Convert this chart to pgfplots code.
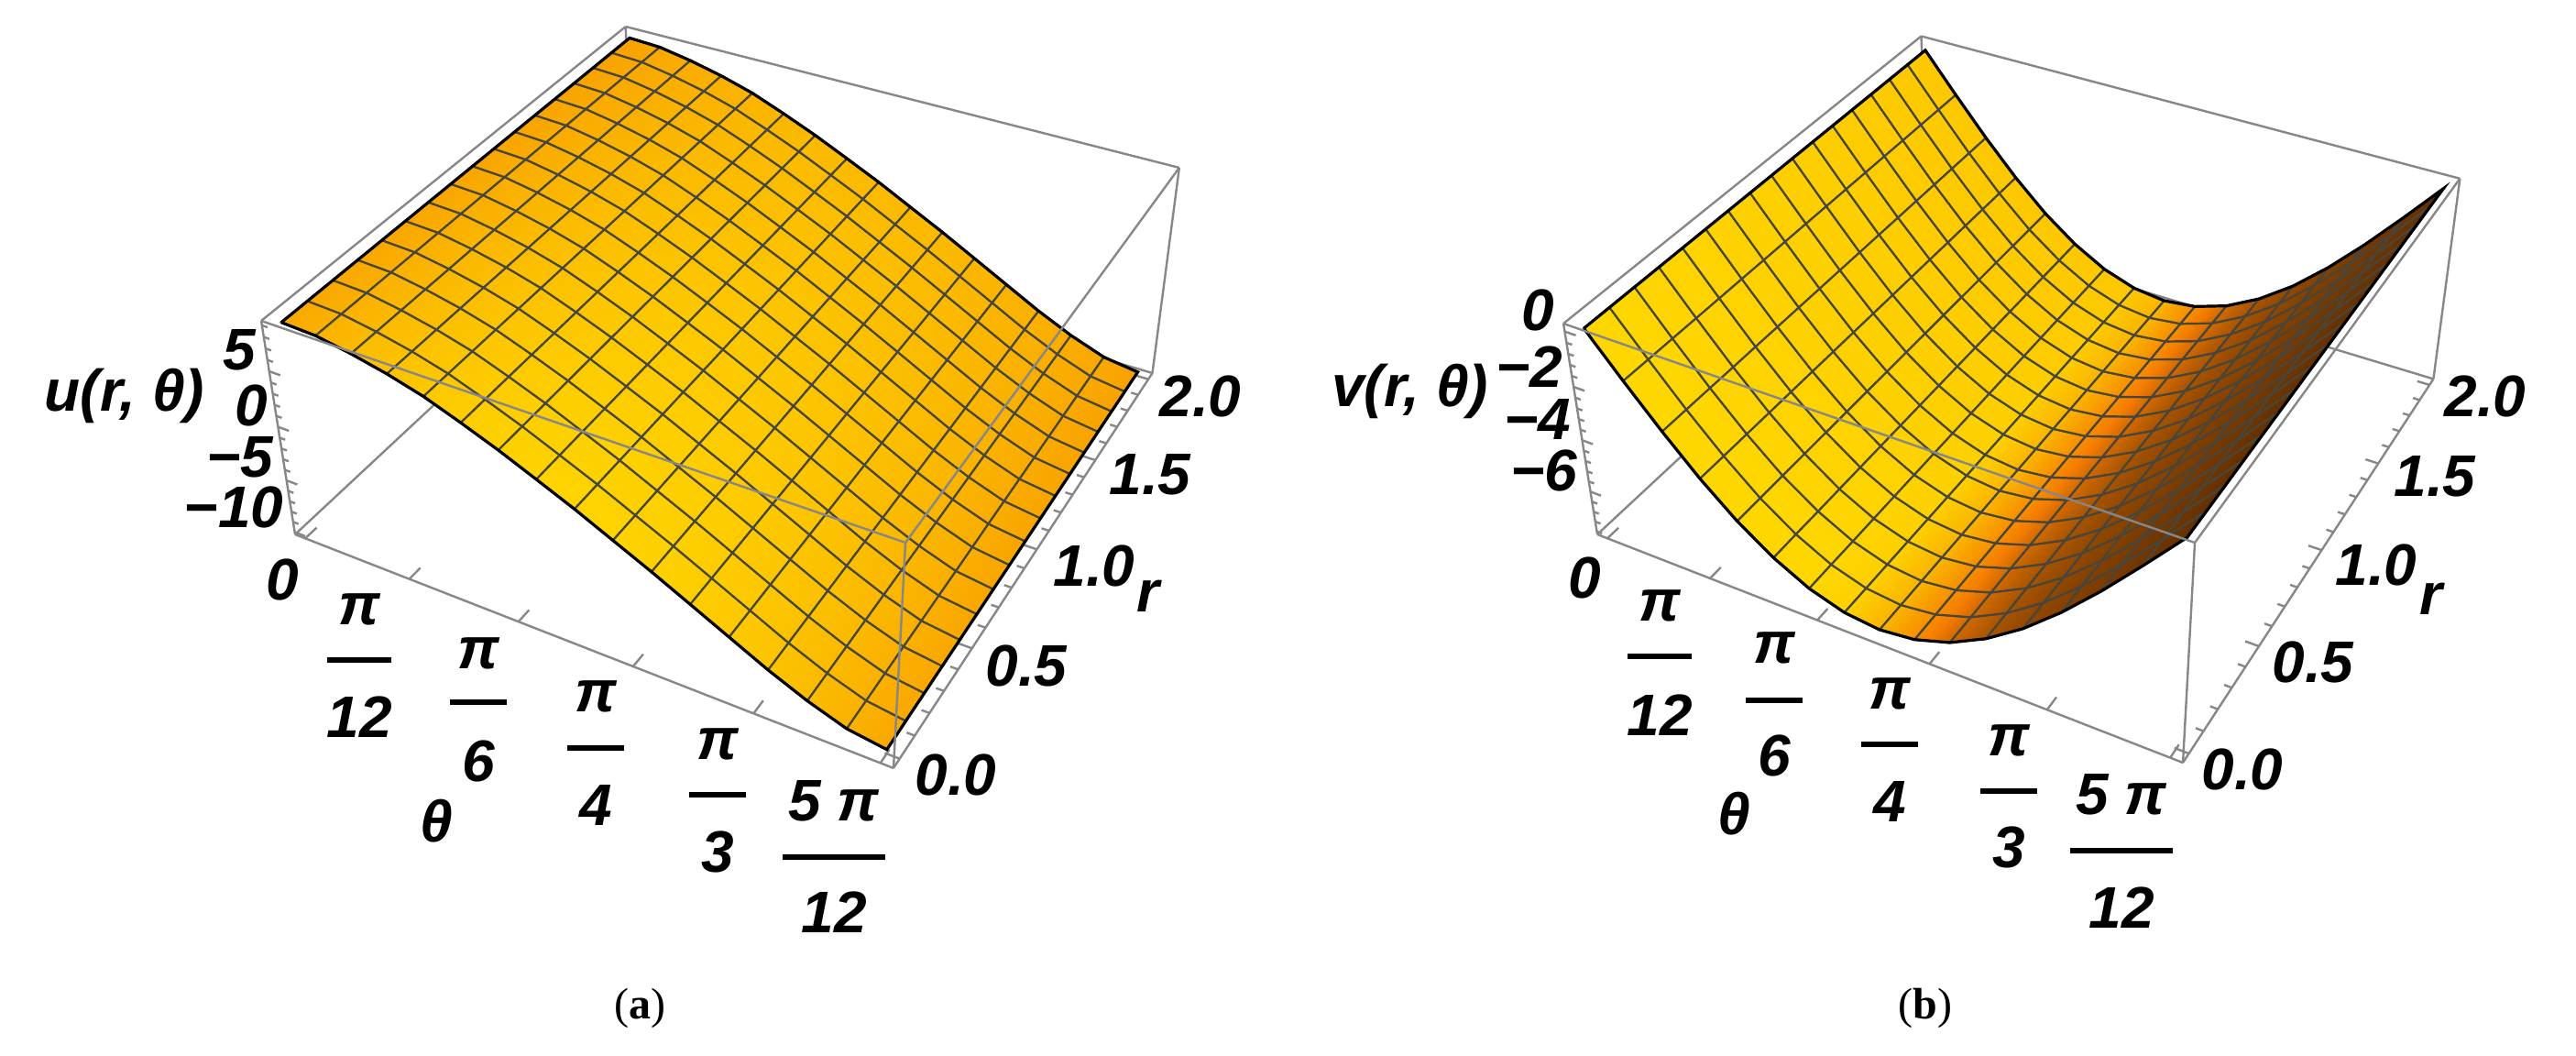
\documentclass[border=0pt]{standalone}
\usepackage{fontspec}
\setmainfont{Liberation Sans}
\newfontfamily\capfont{Liberation Serif}
\usepackage{pgfplots}
\usepackage{pgfplotstable}
\pgfplotsset{compat=1.18}

% u(r,theta): i = theta index (theta = i/16 * 5pi/12), j = r index (r = j/8)
\pgfplotstableread[row sep=\\]{i j z\\
0 0 8.98\\0 1 8.98\\0 2 8.98\\0 3 8.98\\0 4 8.98\\0 5 8.98\\0 6 8.98\\0 7 8.98\\0 8 8.98\\0 9 8.98\\0 10 8.98\\0 11 8.98\\0 12 8.98\\0 13 8.98\\0 14 8.98\\0 15 8.98\\0 16 8.98\\
1 0 8.84\\1 1 8.84\\1 2 8.84\\1 3 8.84\\1 4 8.84\\1 5 8.84\\1 6 8.84\\1 7 8.84\\1 8 8.84\\1 9 8.84\\1 10 8.84\\1 11 8.84\\1 12 8.84\\1 13 8.84\\1 14 8.84\\1 15 8.84\\1 16 8.84\\
2 0 8.31\\2 1 8.31\\2 2 8.31\\2 3 8.31\\2 4 8.31\\2 5 8.31\\2 6 8.31\\2 7 8.31\\2 8 8.31\\2 9 8.31\\2 10 8.31\\2 11 8.31\\2 12 8.31\\2 13 8.31\\2 14 8.31\\2 15 8.31\\2 16 8.31\\
3 0 7.62\\3 1 7.62\\3 2 7.62\\3 3 7.62\\3 4 7.62\\3 5 7.62\\3 6 7.62\\3 7 7.62\\3 8 7.62\\3 9 7.62\\3 10 7.62\\3 11 7.62\\3 12 7.62\\3 13 7.62\\3 14 7.62\\3 15 7.62\\3 16 7.62\\
4 0 6.74\\4 1 6.74\\4 2 6.74\\4 3 6.74\\4 4 6.74\\4 5 6.74\\4 6 6.74\\4 7 6.74\\4 8 6.74\\4 9 6.74\\4 10 6.74\\4 11 6.74\\4 12 6.74\\4 13 6.74\\4 14 6.74\\4 15 6.74\\4 16 6.74\\
5 0 5.56\\5 1 5.56\\5 2 5.56\\5 3 5.56\\5 4 5.56\\5 5 5.56\\5 6 5.56\\5 7 5.56\\5 8 5.56\\5 9 5.56\\5 10 5.56\\5 11 5.56\\5 12 5.56\\5 13 5.56\\5 14 5.56\\5 15 5.56\\5 16 5.56\\
6 0 4.29\\6 1 4.29\\6 2 4.29\\6 3 4.29\\6 4 4.29\\6 5 4.29\\6 6 4.29\\6 7 4.29\\6 8 4.29\\6 9 4.29\\6 10 4.29\\6 11 4.29\\6 12 4.29\\6 13 4.29\\6 14 4.29\\6 15 4.29\\6 16 4.29\\
7 0 2.88\\7 1 2.88\\7 2 2.88\\7 3 2.88\\7 4 2.88\\7 5 2.88\\7 6 2.88\\7 7 2.88\\7 8 2.88\\7 9 2.88\\7 10 2.88\\7 11 2.88\\7 12 2.88\\7 13 2.88\\7 14 2.88\\7 15 2.88\\7 16 2.88\\
8 0 1.44\\8 1 1.44\\8 2 1.44\\8 3 1.44\\8 4 1.44\\8 5 1.44\\8 6 1.44\\8 7 1.44\\8 8 1.44\\8 9 1.44\\8 10 1.44\\8 11 1.44\\8 12 1.44\\8 13 1.44\\8 14 1.44\\8 15 1.44\\8 16 1.44\\
9 0 -0.13\\9 1 -0.13\\9 2 -0.13\\9 3 -0.13\\9 4 -0.13\\9 5 -0.13\\9 6 -0.13\\9 7 -0.13\\9 8 -0.13\\9 9 -0.13\\9 10 -0.13\\9 11 -0.13\\9 12 -0.13\\9 13 -0.13\\9 14 -0.13\\9 15 -0.13\\9 16 -0.13\\
10 0 -1.70\\10 1 -1.70\\10 2 -1.70\\10 3 -1.70\\10 4 -1.70\\10 5 -1.70\\10 6 -1.70\\10 7 -1.70\\10 8 -1.70\\10 9 -1.70\\10 10 -1.70\\10 11 -1.70\\10 12 -1.70\\10 13 -1.70\\10 14 -1.70\\10 15 -1.70\\10 16 -1.70\\
11 0 -3.36\\11 1 -3.36\\11 2 -3.36\\11 3 -3.36\\11 4 -3.36\\11 5 -3.36\\11 6 -3.36\\11 7 -3.36\\11 8 -3.36\\11 9 -3.36\\11 10 -3.36\\11 11 -3.36\\11 12 -3.36\\11 13 -3.36\\11 14 -3.36\\11 15 -3.36\\11 16 -3.36\\
12 0 -5.03\\12 1 -5.03\\12 2 -5.03\\12 3 -5.03\\12 4 -5.03\\12 5 -5.03\\12 6 -5.03\\12 7 -5.03\\12 8 -5.03\\12 9 -5.03\\12 10 -5.03\\12 11 -5.03\\12 12 -5.03\\12 13 -5.03\\12 14 -5.03\\12 15 -5.03\\12 16 -5.03\\
13 0 -6.70\\13 1 -6.70\\13 2 -6.70\\13 3 -6.70\\13 4 -6.70\\13 5 -6.70\\13 6 -6.70\\13 7 -6.70\\13 8 -6.70\\13 9 -6.70\\13 10 -6.70\\13 11 -6.70\\13 12 -6.70\\13 13 -6.70\\13 14 -6.70\\13 15 -6.70\\13 16 -6.70\\
14 0 -8.17\\14 1 -8.17\\14 2 -8.17\\14 3 -8.17\\14 4 -8.17\\14 5 -8.17\\14 6 -8.17\\14 7 -8.17\\14 8 -8.17\\14 9 -8.17\\14 10 -8.17\\14 11 -8.17\\14 12 -8.17\\14 13 -8.17\\14 14 -8.17\\14 15 -8.17\\14 16 -8.17\\
15 0 -9.35\\15 1 -9.35\\15 2 -9.35\\15 3 -9.35\\15 4 -9.35\\15 5 -9.35\\15 6 -9.35\\15 7 -9.35\\15 8 -9.35\\15 9 -9.35\\15 10 -9.35\\15 11 -9.35\\15 12 -9.35\\15 13 -9.35\\15 14 -9.35\\15 15 -9.35\\15 16 -9.35\\
16 0 -9.84\\16 1 -9.84\\16 2 -9.84\\16 3 -9.84\\16 4 -9.84\\16 5 -9.84\\16 6 -9.84\\16 7 -9.84\\16 8 -9.84\\16 9 -9.84\\16 10 -9.84\\16 11 -9.84\\16 12 -9.84\\16 13 -9.84\\16 14 -9.84\\16 15 -9.84\\16 16 -9.84\\
}\tabU

% outline of the u surface
\pgfplotstableread[row sep=\\]{i j z\\
0 0 8.98\\1 0 8.84\\2 0 8.31\\3 0 7.62\\4 0 6.74\\5 0 5.56\\6 0 4.29\\7 0 2.88\\8 0 1.44\\9 0 -0.13\\10 0 -1.70\\11 0 -3.36\\12 0 -5.03\\13 0 -6.70\\14 0 -8.17\\15 0 -9.35\\16 0 -9.84\\
16 16 -9.84\\15 16 -9.35\\14 16 -8.17\\13 16 -6.70\\12 16 -5.03\\11 16 -3.36\\10 16 -1.70\\9 16 -0.13\\8 16 1.44\\7 16 2.88\\6 16 4.29\\5 16 5.56\\4 16 6.74\\3 16 7.62\\2 16 8.31\\1 16 8.84\\0 16 8.98\\0 0 8.98\\
}\edgeU

% v(r,theta)
\pgfplotstableread[row sep=\\]{i j z\\
0 0 0\\0 1 0\\0 2 0\\0 3 0\\0 4 0\\0 5 0\\0 6 0\\0 7 0\\0 8 0\\0 9 0\\0 10 0\\0 11 0\\0 12 0\\0 13 0\\0 14 0\\0 15 0\\0 16 0\\
1 0 -1.47\\1 1 -1.47\\1 2 -1.47\\1 3 -1.47\\1 4 -1.47\\1 5 -1.47\\1 6 -1.47\\1 7 -1.47\\1 8 -1.47\\1 9 -1.47\\1 10 -1.47\\1 11 -1.47\\1 12 -1.47\\1 13 -1.47\\1 14 -1.47\\1 15 -1.47\\1 16 -1.47\\
2 0 -2.89\\2 1 -2.89\\2 2 -2.89\\2 3 -2.89\\2 4 -2.89\\2 5 -2.89\\2 6 -2.89\\2 7 -2.89\\2 8 -2.89\\2 9 -2.89\\2 10 -2.89\\2 11 -2.89\\2 12 -2.89\\2 13 -2.89\\2 14 -2.89\\2 15 -2.89\\2 16 -2.89\\
3 0 -4.20\\3 1 -4.20\\3 2 -4.20\\3 3 -4.20\\3 4 -4.20\\3 5 -4.20\\3 6 -4.20\\3 7 -4.20\\3 8 -4.20\\3 9 -4.20\\3 10 -4.20\\3 11 -4.20\\3 12 -4.20\\3 13 -4.20\\3 14 -4.20\\3 15 -4.20\\3 16 -4.20\\
4 0 -5.35\\4 1 -5.35\\4 2 -5.35\\4 3 -5.35\\4 4 -5.35\\4 5 -5.35\\4 6 -5.35\\4 7 -5.35\\4 8 -5.35\\4 9 -5.35\\4 10 -5.35\\4 11 -5.35\\4 12 -5.35\\4 13 -5.35\\4 14 -5.35\\4 15 -5.35\\4 16 -5.35\\
5 0 -6.28\\5 1 -6.28\\5 2 -6.28\\5 3 -6.28\\5 4 -6.28\\5 5 -6.28\\5 6 -6.28\\5 7 -6.28\\5 8 -6.28\\5 9 -6.28\\5 10 -6.28\\5 11 -6.28\\5 12 -6.28\\5 13 -6.28\\5 14 -6.28\\5 15 -6.28\\5 16 -6.28\\
6 0 -6.98\\6 1 -6.98\\6 2 -6.98\\6 3 -6.98\\6 4 -6.98\\6 5 -6.98\\6 6 -6.98\\6 7 -6.98\\6 8 -6.98\\6 9 -6.98\\6 10 -6.98\\6 11 -6.98\\6 12 -6.98\\6 13 -6.98\\6 14 -6.98\\6 15 -6.98\\6 16 -6.98\\
7 0 -7.41\\7 1 -7.41\\7 2 -7.41\\7 3 -7.41\\7 4 -7.41\\7 5 -7.41\\7 6 -7.41\\7 7 -7.41\\7 8 -7.41\\7 9 -7.41\\7 10 -7.41\\7 11 -7.41\\7 12 -7.41\\7 13 -7.41\\7 14 -7.41\\7 15 -7.41\\7 16 -7.41\\
8 0 -7.56\\8 1 -7.56\\8 2 -7.56\\8 3 -7.56\\8 4 -7.56\\8 5 -7.56\\8 6 -7.56\\8 7 -7.56\\8 8 -7.56\\8 9 -7.56\\8 10 -7.56\\8 11 -7.56\\8 12 -7.56\\8 13 -7.56\\8 14 -7.56\\8 15 -7.56\\8 16 -7.56\\
9 0 -7.41\\9 1 -7.41\\9 2 -7.41\\9 3 -7.41\\9 4 -7.41\\9 5 -7.41\\9 6 -7.41\\9 7 -7.41\\9 8 -7.41\\9 9 -7.41\\9 10 -7.41\\9 11 -7.41\\9 12 -7.41\\9 13 -7.41\\9 14 -7.41\\9 15 -7.41\\9 16 -7.41\\
10 0 -6.98\\10 1 -6.98\\10 2 -6.98\\10 3 -6.98\\10 4 -6.98\\10 5 -6.98\\10 6 -6.98\\10 7 -6.98\\10 8 -6.98\\10 9 -6.98\\10 10 -6.98\\10 11 -6.98\\10 12 -6.98\\10 13 -6.98\\10 14 -6.98\\10 15 -6.98\\10 16 -6.98\\
11 0 -6.28\\11 1 -6.28\\11 2 -6.28\\11 3 -6.28\\11 4 -6.28\\11 5 -6.28\\11 6 -6.28\\11 7 -6.28\\11 8 -6.28\\11 9 -6.28\\11 10 -6.28\\11 11 -6.28\\11 12 -6.28\\11 13 -6.28\\11 14 -6.28\\11 15 -6.28\\11 16 -6.28\\
12 0 -5.35\\12 1 -5.35\\12 2 -5.35\\12 3 -5.35\\12 4 -5.35\\12 5 -5.35\\12 6 -5.35\\12 7 -5.35\\12 8 -5.35\\12 9 -5.35\\12 10 -5.35\\12 11 -5.35\\12 12 -5.35\\12 13 -5.35\\12 14 -5.35\\12 15 -5.35\\12 16 -5.35\\
13 0 -4.20\\13 1 -4.20\\13 2 -4.20\\13 3 -4.20\\13 4 -4.20\\13 5 -4.20\\13 6 -4.20\\13 7 -4.20\\13 8 -4.20\\13 9 -4.20\\13 10 -4.20\\13 11 -4.20\\13 12 -4.20\\13 13 -4.20\\13 14 -4.20\\13 15 -4.20\\13 16 -4.20\\
14 0 -2.89\\14 1 -2.89\\14 2 -2.89\\14 3 -2.89\\14 4 -2.89\\14 5 -2.89\\14 6 -2.89\\14 7 -2.89\\14 8 -2.89\\14 9 -2.89\\14 10 -2.89\\14 11 -2.89\\14 12 -2.89\\14 13 -2.89\\14 14 -2.89\\14 15 -2.89\\14 16 -2.89\\
15 0 -1.47\\15 1 -1.47\\15 2 -1.47\\15 3 -1.47\\15 4 -1.47\\15 5 -1.47\\15 6 -1.47\\15 7 -1.47\\15 8 -1.47\\15 9 -1.47\\15 10 -1.47\\15 11 -1.47\\15 12 -1.47\\15 13 -1.47\\15 14 -1.47\\15 15 -1.47\\15 16 -1.47\\
16 0 0\\16 1 0\\16 2 0\\16 3 0\\16 4 0\\16 5 0\\16 6 0\\16 7 0\\16 8 0\\16 9 0\\16 10 0\\16 11 0\\16 12 0\\16 13 0\\16 14 0\\16 15 0\\16 16 0\\
}\tabV

\pgfplotstableread[row sep=\\]{i j z\\
0 0 0\\1 0 -1.47\\2 0 -2.89\\3 0 -4.20\\4 0 -5.35\\5 0 -6.28\\6 0 -6.98\\7 0 -7.41\\8 0 -7.56\\9 0 -7.41\\10 0 -6.98\\11 0 -6.28\\12 0 -5.35\\13 0 -4.20\\14 0 -2.89\\15 0 -1.47\\16 0 0\\
16 16 0\\15 16 -1.47\\14 16 -2.89\\13 16 -4.20\\12 16 -5.35\\11 16 -6.28\\10 16 -6.98\\9 16 -7.41\\8 16 -7.56\\7 16 -7.41\\6 16 -6.98\\5 16 -6.28\\4 16 -5.35\\3 16 -4.20\\2 16 -2.89\\1 16 -1.47\\0 16 0\\0 0 0\\
}\edgeV

% perspective of the two boxes, in pixels of the page; a, b, c are box fractions
\tikzset{declare function={
  pad(\t)=(\t+0.02)/1.04;
  cL(\z)=(\z+10.23)/19.62;
  cR(\z)=(\z+7.72)/8;
  wL(\a,\b,\c)=1-0.1206*\a+0.212*\b-0.0689*\c;
  wR(\a,\b,\c)=1-0.1118*\a+0.215*\b-0.0705*\c;
  XL(\a,\b,\c)=(535.4*\a+515*\b-56.6*\c+322)/wL(\a,\b,\c);
  YL(\a,\b,\c)=(153.9*\a-292.7*\b-257.1*\c+583)/wL(\a,\b,\c);
  XR(\a,\b,\c)=(372.7*\a+813.7*\b-157.3*\c+1743)/wR(\a,\b,\c);
  YR(\a,\b,\c)=(156*\a-282.9*\b-254.9*\c+583)/wR(\a,\b,\c);
  shL(\t,\s)=168-6*\s+(44-20*\s)*(1-(2*\t-1)*(2*\t-1));
  shR(\t,\s)=min(215-15*\s,48+80*(1-\t)+130/(1+exp(18*(\t-0.55))));
}}

\definecolor{framec}{RGB}{135,135,135}
\definecolor{meshc}{RGB}{72,70,60}

\pgfplotsset{
  panel/.style={
    scale only axis, width=702.75pt, height=288pt,
    xmin=0, xmax=2811, ymin=0, ymax=1152, y dir=reverse,
    hide axis, clip=false, anchor=south west, at={(0,0)},
    colormap={sun}{rgb255(0pt)=(85,40,0); rgb255(85pt)=(245,125,0); rgb255(185pt)=(255,225,0)},
    point meta min=40, point meta max=225,
  },
  fr/.style={framec, line width=0.6pt, no marks},
  meshsurf/.style={surf, shader=faceted interp, faceted color=meshc, line width=0.55pt, mesh/cols=17},
}
\tikzset{
  tl/.style={inner sep=0pt, font=\fontsize{16}{18}\selectfont\bfseries\itshape},
  subcap/.style={inner sep=0pt, font=\fontsize{12}{14}\selectfont\capfont},
}

\newcommand{\seg}[7]{\addplot[fr] coordinates {({X#1(#2,#3,#4)},{Y#1(#2,#3,#4)}) ({X#1(#5,#6,#7)},{Y#1(#5,#6,#7)})};}
\newcommand{\ttick}[2]{\seg{#1}{pad(#2)}{0}{0}{pad(#2)}{0.028}{0}}
\newcommand{\rtick}[3]{\seg{#1}{1}{pad(#2/2)}{0}{1-#3}{pad(#2/2)}{0}}
\newcommand{\ztick}[3]{\seg{#1}{0}{0}{c#1(#2)}{#3}{0}{c#1(#2)}}
\newcommand{\backbox}[1]{%
  \seg{#1}{0}{0}{0}{1}{0}{0}\seg{#1}{1}{0}{0}{1}{1}{0}\seg{#1}{1}{1}{0}{1}{1}{1}%
  \seg{#1}{1}{1}{1}{0}{1}{1}\seg{#1}{0}{1}{1}{0}{0}{1}\seg{#1}{0}{0}{1}{0}{0}{0}%
  \seg{#1}{0}{0}{0}{0}{1}{0}\seg{#1}{0}{1}{0}{1}{1}{0}\seg{#1}{0}{1}{0}{0}{1}{1}}
\newcommand{\frontbox}[1]{%
  \seg{#1}{0}{0}{1}{1}{0}{1}\seg{#1}{1}{0}{1}{1}{0}{0}\seg{#1}{1}{0}{1}{1}{1}{1}}
% x, y top, y bar, y bottom, half width, top, bottom
\newcommand{\frc}[7]{%
  \node[tl] at (axis cs:#1,#2) {#6};
  \addplot[black, line width=1.5pt, no marks] coordinates {({#1-#5},#3) ({#1+#5},#3)};
  \node[tl] at (axis cs:#1,#4) {#7};}

\begin{document}
\begin{tikzpicture}
\path[use as bounding box] (0,0) rectangle (702.75pt,288pt);

% ---------- (a) ----------
\begin{axis}[panel]
\backbox{L}
\pgfplotsinvokeforeach{0,0.2,0.4,0.6,0.8,1}{\ttick{L}{#1}}
\pgfplotsinvokeforeach{0,0.5,1,1.5,2}{\rtick{L}{#1}{0.022}}
\pgfplotsinvokeforeach{0.1,0.2,0.3,0.4,0.6,0.7,0.8,0.9,1.1,1.2,1.3,1.4,1.6,1.7,1.8,1.9}{\rtick{L}{#1}{0.012}}
\pgfplotsinvokeforeach{-10,-5,0,5}{\ztick{L}{#1}{0.02}}
\pgfplotsinvokeforeach{-9,-8,-7,-6,-4,-3,-2,-1,1,2,3,4,6,7,8,9}{\ztick{L}{#1}{0.01}}
\addplot[meshsurf, point meta={shL(\thisrow{i}/16,\thisrow{j}/16)}]
  table[x expr={XL(pad(\thisrow{i}/16),pad(\thisrow{j}/16),cL(\thisrow{z}))},
        y expr={YL(pad(\thisrow{i}/16),pad(\thisrow{j}/16),cL(\thisrow{z}))}] {\tabU};
\addplot[black, line width=0.8pt, no marks]
  table[x expr={XL(pad(\thisrow{i}/16),pad(\thisrow{j}/16),cL(\thisrow{z}))},
        y expr={YL(pad(\thisrow{i}/16),pad(\thisrow{j}/16),cL(\thisrow{z}))}] {\edgeU};
\frontbox{L}
\node[tl, anchor=east] at (axis cs:280,382) {5};
\node[tl, anchor=east] at (axis cs:293,442) {0};
\node[tl, anchor=east] at (axis cs:299,499) {−5};
\node[tl, anchor=east] at (axis cs:310,553) {−10};
\node[tl, anchor=east] at (axis cs:224,432) {u(r, θ)};
\node[tl] at (axis cs:308,632) {0};
\frc{392}{665}{720}{782}{35}{π}{12}
\frc{522}{713}{766}{830}{31}{π}{6}
\frc{650}{760}{816}{878}{31}{π}{4}
\frc{783}{812}{867}{929}{31}{π}{3}
\frc{910}{874}{935}{995}{56}{5 π}{12}
\node[tl] at (axis cs:476,896) {θ};
\node[tl] at (axis cs:1043,845) {0.0};
\node[tl] at (axis cs:1120,726) {0.5};
\node[tl] at (axis cs:1194,617) {1.0};
\node[tl] at (axis cs:1255,518) {1.5};
\node[tl] at (axis cs:1310,432) {2.0};
\node[tl] at (axis cs:1253,650) {r};
\node[subcap] at (axis cs:698,1100) {({\bfseries a})};
\end{axis}

% ---------- (b) ----------
\begin{axis}[panel]
\backbox{R}
\pgfplotsinvokeforeach{0,0.2,0.4,0.6,0.8,1}{\ttick{R}{#1}}
\pgfplotsinvokeforeach{0,0.5,1,1.5,2}{\rtick{R}{#1}{0.022}}
\pgfplotsinvokeforeach{0.1,0.2,0.3,0.4,0.6,0.7,0.8,0.9,1.1,1.2,1.3,1.4,1.6,1.7,1.8,1.9}{\rtick{R}{#1}{0.012}}
\pgfplotsinvokeforeach{-6,-4,-2,0}{\ztick{R}{#1}{0.02}}
\pgfplotsinvokeforeach{-7.6,-7.2,-6.8,-6.4,-5.6,-5.2,-4.8,-4.4,-3.6,-3.2,-2.8,-2.4,-1.6,-1.2,-0.8,-0.4}{\ztick{R}{#1}{0.01}}
\addplot[meshsurf, point meta={shR(\thisrow{i}/16,\thisrow{j}/16)}]
  table[x expr={XR(pad(\thisrow{i}/16),pad(\thisrow{j}/16),cR(\thisrow{z}))},
        y expr={YR(pad(\thisrow{i}/16),pad(\thisrow{j}/16),cR(\thisrow{z}))}] {\tabV};
\addplot[black, line width=0.8pt, no marks]
  table[x expr={XR(pad(\thisrow{i}/16),pad(\thisrow{j}/16),cR(\thisrow{z}))},
        y expr={YR(pad(\thisrow{i}/16),pad(\thisrow{j}/16),cR(\thisrow{z}))}] {\edgeV};
\frontbox{R}
\node[tl, anchor=east] at (axis cs:1697,338) {0};
\node[tl, anchor=east] at (axis cs:1706,400) {−2};
\node[tl, anchor=east] at (axis cs:1715,457) {−4};
\node[tl, anchor=east] at (axis cs:1722,513) {−6};
\node[tl, anchor=east] at (axis cs:1625,427) {v(r, θ)};
\node[tl] at (axis cs:1729,630) {0};
\frc{1811}{661}{716}{780}{35}{π}{12}
\frc{1936}{707}{764}{824}{31}{π}{6}
\frc{2062}{757}{812}{874}{31}{π}{4}
\frc{2192}{808}{863}{924}{31}{π}{3}
\frc{2315}{867}{928}{990}{56}{5 π}{12}
\node[tl] at (axis cs:1892,888) {θ};
\node[tl] at (axis cs:2447,839) {0.0};
\node[tl] at (axis cs:2524,722) {0.5};
\node[tl] at (axis cs:2593,616) {1.0};
\node[tl] at (axis cs:2657,520) {1.5};
\node[tl] at (axis cs:2712,432) {2.0};
\node[tl] at (axis cs:2653,653) {r};
\node[subcap] at (axis cs:2101,1100) {({\bfseries b})};
\end{axis}
\end{tikzpicture}
\end{document}
